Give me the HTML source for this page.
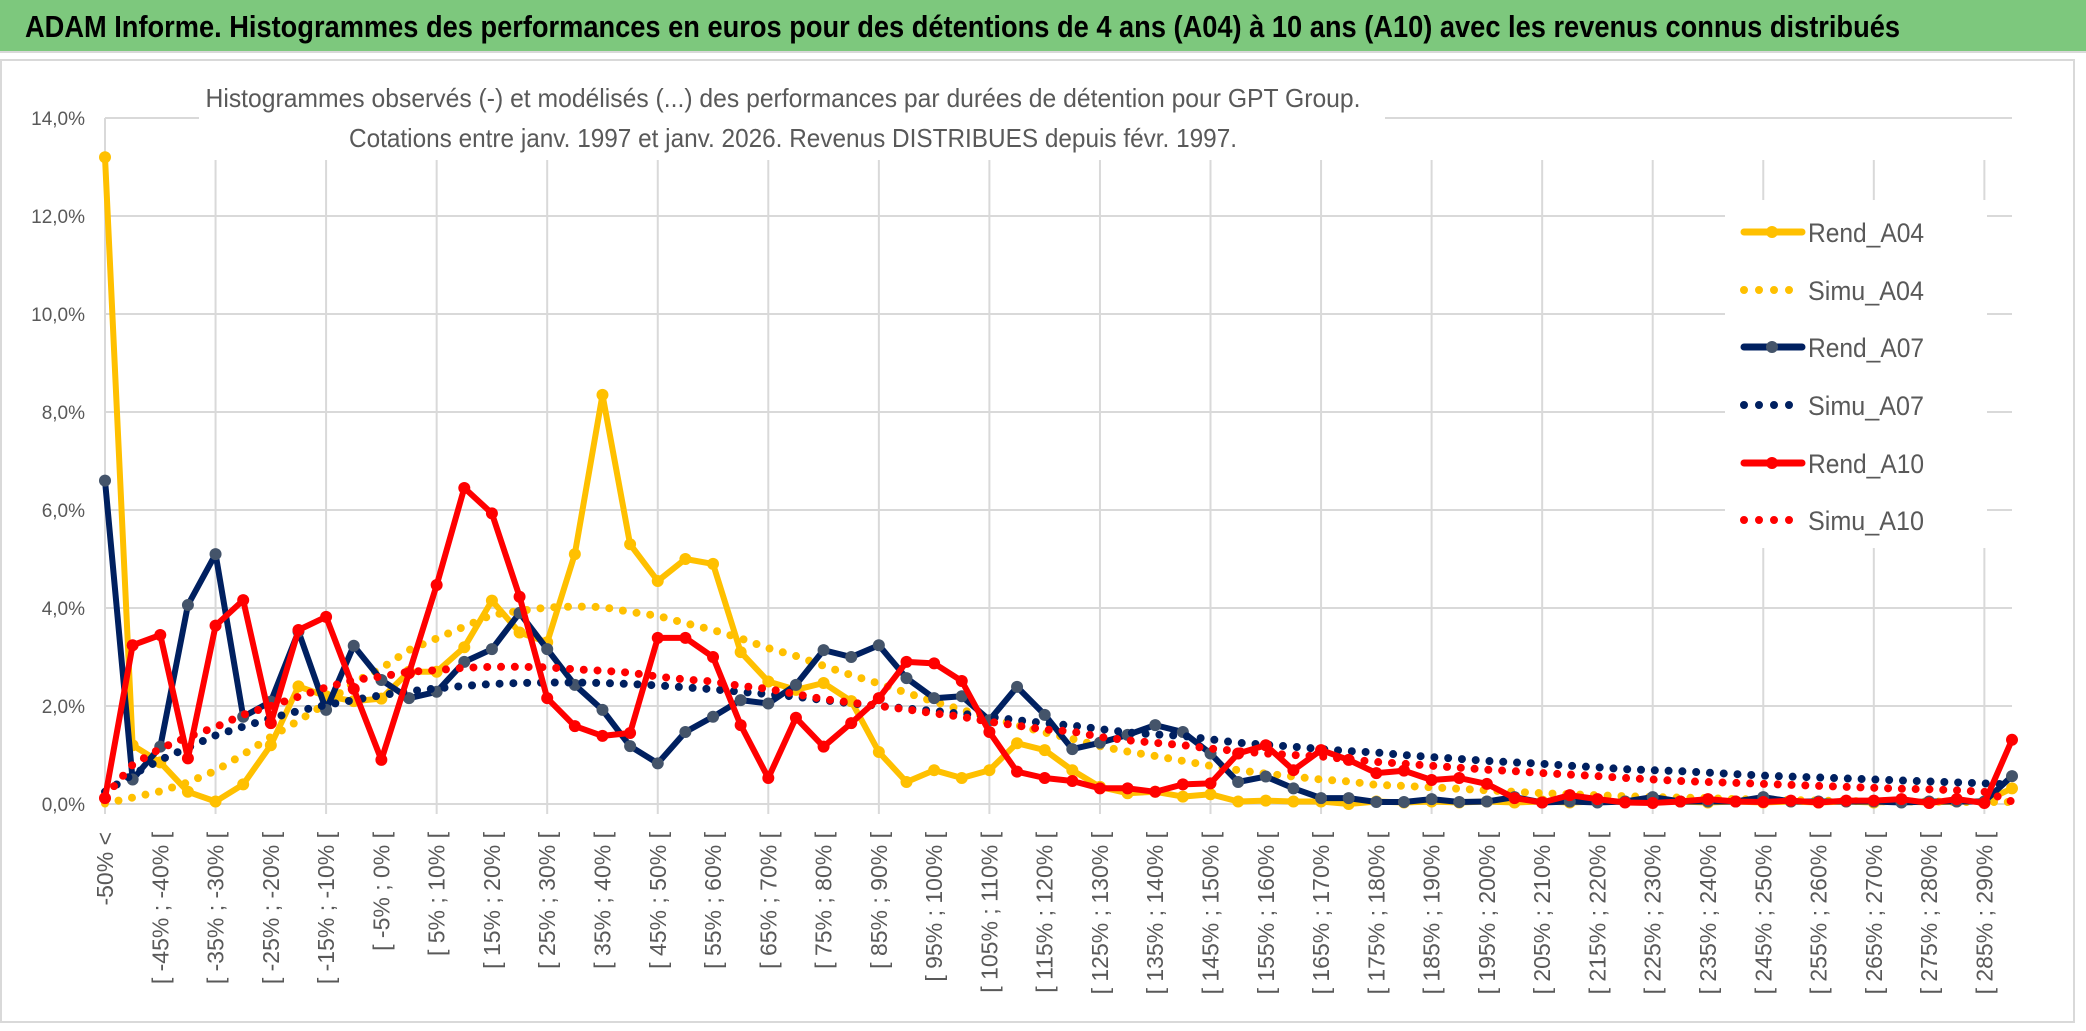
<!DOCTYPE html>
<html><head><meta charset="utf-8">
<style>
html,body{margin:0;padding:0;background:#fff;}
svg{display:block;}
text{font-family:"Liberation Sans",sans-serif;}
</style></head>
<body>
<svg id="chart" width="2086" height="1031" viewBox="0 0 2086 1031" xmlns="http://www.w3.org/2000/svg">
<rect x="0" y="0" width="2086" height="1031" fill="#fff"/>
<rect x="0" y="0" width="2086" height="51" fill="#7dc87d"/>
<line x1="0" y1="52" x2="2086" y2="52" stroke="#d9d9d9" stroke-width="2"/>
<text x="25" y="37" font-size="31" font-weight="bold" fill="#000" textLength="1875" lengthAdjust="spacingAndGlyphs">ADAM Informe. Histogrammes des performances en euros pour des détentions de 4 ans (A04) à 10 ans (A10) avec les revenus connus distribués</text>
<rect x="1" y="60" width="2073" height="962" fill="none" stroke="#d9d9d9" stroke-width="2"/>
<g id="grid"></g>
<rect x="199" y="62" width="1186" height="98" fill="#fff"/>
<text x="783" y="107" font-size="26" fill="#595959" text-anchor="middle" textLength="1155" lengthAdjust="spacingAndGlyphs">Histogrammes observés (-) et modélisés (...) des performances par durées de détention pour GPT Group.</text>
<text x="793" y="147" font-size="26" fill="#595959" text-anchor="middle" textLength="888" lengthAdjust="spacingAndGlyphs">Cotations entre janv. 1997 et janv. 2026. Revenus DISTRIBUES depuis févr. 1997.</text>
<g id="yaxis"></g>
<g id="xaxis"></g>
<g id="series"></g>
<g id="legend"></g>
</svg>
<script>
const categories = ["-50% <"];
for (let v = -50; v < 295; v += 5) categories.push("[ " + v + "% ; " + (v + 5) + "% [");
const yTicks = [0, 2, 4, 6, 8, 10, 12, 14];
const yTickLabels = ["0,0%", "2,0%", "4,0%", "6,0%", "8,0%", "10,0%", "12,0%", "14,0%"];
const seriesNames = ["Rend_A04", "Simu_A04", "Rend_A07", "Simu_A07", "Rend_A10", "Simu_A10"];
const rendA04 = [13.2,1.2,0.85,0.25,0.05,0.4,1.2,2.4,2.2,2.1,2.15,2.7,2.7,3.2,4.15,3.5,3.3,5.1,8.35,5.3,4.55,5.0,4.9,3.1,2.5,2.33,2.47,2.1,1.06,0.45,0.69,0.53,0.69,1.24,1.1,0.69,0.35,0.22,0.25,0.15,0.2,0.05,0.07,0.05,0.05,0.0,0.05,0.03,0.05,0.03,0.05,0.03,0.05,0.03,0.05,0.05,0.03,0.05,0.03,0.05,0.03,0.05,0.03,0.05,0.03,0.05,0.03,0.05,0.05,0.32];
const simuA04 = [0.01,0.13,0.26,0.44,0.68,1.01,1.37,1.7,2.05,2.48,2.77,3.14,3.38,3.62,3.86,3.94,4.01,4.03,4.02,3.92,3.84,3.69,3.55,3.38,3.18,3.02,2.82,2.63,2.46,2.27,2.09,1.92,1.77,1.61,1.46,1.33,1.18,1.07,0.98,0.88,0.78,0.69,0.62,0.56,0.5,0.46,0.39,0.37,0.34,0.31,0.28,0.25,0.22,0.2,0.18,0.16,0.14,0.13,0.12,0.1,0.09,0.08,0.07,0.06,0.06,0.05,0.05,0.04,0.04,0.04];
const rendA07 = [6.6,0.5,1.17,4.06,5.1,1.78,2.09,3.52,1.92,3.23,2.53,2.16,2.29,2.9,3.16,3.9,3.16,2.43,1.92,1.18,0.83,1.47,1.78,2.12,2.05,2.43,3.14,3.0,3.24,2.57,2.16,2.2,1.71,2.39,1.82,1.12,1.25,1.41,1.61,1.47,1.03,0.45,0.56,0.32,0.12,0.12,0.04,0.04,0.1,0.04,0.05,0.14,0.03,0.05,0.03,0.05,0.14,0.05,0.05,0.05,0.14,0.05,0.05,0.05,0.05,0.03,0.05,0.05,0.05,0.57];
const simuA07 = [0.25,0.6,0.9,1.15,1.4,1.58,1.75,1.9,2.02,2.12,2.22,2.3,2.36,2.41,2.45,2.47,2.48,2.48,2.47,2.45,2.42,2.38,2.34,2.29,2.24,2.19,2.12,2.05,2.0,1.95,1.9,1.84,1.78,1.71,1.65,1.6,1.53,1.46,1.42,1.39,1.32,1.25,1.21,1.17,1.12,1.08,1.05,1.0,0.96,0.92,0.88,0.85,0.82,0.78,0.75,0.71,0.69,0.67,0.64,0.61,0.58,0.56,0.54,0.52,0.5,0.48,0.46,0.44,0.42,0.4];
const rendA10 = [0.12,3.24,3.45,0.93,3.64,4.16,1.65,3.55,3.82,2.35,0.9,2.67,4.47,6.45,5.93,4.23,2.16,1.59,1.39,1.45,3.39,3.39,3.0,1.61,0.53,1.76,1.17,1.65,2.16,2.9,2.87,2.51,1.47,0.66,0.53,0.47,0.32,0.32,0.25,0.4,0.42,1.03,1.2,0.69,1.1,0.9,0.63,0.68,0.49,0.53,0.41,0.12,0.03,0.18,0.1,0.03,0.02,0.05,0.1,0.05,0.04,0.07,0.03,0.07,0.07,0.1,0.02,0.1,0.02,1.31];
const simuA10 = [0.15,0.8,1.13,1.37,1.57,1.82,2.0,2.19,2.38,2.53,2.6,2.7,2.73,2.78,2.8,2.8,2.79,2.75,2.72,2.68,2.6,2.54,2.5,2.41,2.35,2.24,2.14,2.07,2.0,1.93,1.85,1.78,1.68,1.6,1.52,1.48,1.37,1.3,1.25,1.2,1.13,1.08,1.03,1.0,0.97,0.91,0.86,0.82,0.78,0.74,0.7,0.67,0.63,0.6,0.57,0.53,0.5,0.47,0.45,0.43,0.41,0.39,0.37,0.35,0.33,0.31,0.3,0.28,0.25,0.05];

const NS = "http://www.w3.org/2000/svg";
const X0 = 105, X1 = 2012, Y0 = 804, Y1 = 118, YMAX = 14;
function xPos(i){ return X0 + i * (X1 - X0) / (categories.length - 1); }
function yPos(v){ return Y0 - v / YMAX * (Y0 - Y1); }
function mk(tag, attrs, parent){ const e = document.createElementNS(NS, tag); for (const k in attrs) e.setAttribute(k, attrs[k]); parent.appendChild(e); return e; }

const grid = document.getElementById("grid");
yTicks.forEach((t, k) => {
  const l = mk("line", {x1: X0, x2: X1, y1: yPos(t), y2: yPos(t), stroke: "#d9d9d9", "stroke-width": 2}, grid);
  
  
});
for (let i = 4; i < categories.length; i += 4) {
  const l = mk("line", {x1: xPos(i), x2: xPos(i), y1: 160, y2: 814, stroke: "#d9d9d9", "stroke-width": 2}, grid);
  
  
}
mk("line", {x1: X0, x2: X0, y1: Y1, y2: 814, stroke: "#d9d9d9", "stroke-width": 2}, grid);

const yaxis = document.getElementById("yaxis");
yTicks.forEach((t, k) => {
  const tx = mk("text", {x: 85, y: yPos(t) + 7, "font-size": 19, fill: "#595959", "text-anchor": "end"}, yaxis);
  tx.textContent = yTickLabels[k];
  
  
});
const xaxis = document.getElementById("xaxis");
categories.forEach((c, i) => {
  if (i % 2 !== 0) return;
  const x = xPos(i) + 8, y = 832;
  const tx = mk("text", {x: x, y: y, "font-size": 23, fill: "#595959", "text-anchor": "end", transform: "rotate(-90 " + x + " " + y + ")"}, xaxis);
  tx.textContent = c;
  
  
});

const seriesData = [rendA04, simuA04, rendA07, simuA07, rendA10, simuA10];
const colors = ["#FFC000", "#FFC000", "#002060", "#002060", "#FF0000", "#FF0000"];
const markerColors = ["#FFC000", null, "#44546A", null, "#FF0000", null];
const sg = document.getElementById("series");
seriesData.forEach((data, s) => {
  const g = mk("g", {}, sg);
  
  
  const pts = data.map((v, i) => xPos(i).toFixed(1) + "," + yPos(v).toFixed(1)).join(" ");
  if (markerColors[s]) {
    const pl = mk("polyline", {points: pts, fill: "none", stroke: colors[s], "stroke-width": 6, "stroke-linejoin": "round"}, g);
    
    
    data.forEach((v, i) => {
      const c = mk("circle", {cx: xPos(i), cy: yPos(v), r: 6, fill: markerColors[s]}, g);
      
      
    });
  } else {
    const pl = mk("polyline", {points: pts, fill: "none", stroke: colors[s], "stroke-width": 8, "stroke-linecap": "round", "stroke-dasharray": "0 13.8"}, g);
    
    
  }
});

const lg = document.getElementById("legend");
mk("rect", {x: 1725, y: 200, width: 262, height: 348, fill: "#fff"}, lg);
const ly = [232, 290, 347, 405, 463, 520];
seriesNames.forEach((n, s) => {
  const e = mk("g", {}, lg);
  
  
  if (markerColors[s]) {
    mk("line", {x1: 1744, x2: 1802, y1: ly[s], y2: ly[s], stroke: colors[s], "stroke-width": 7, "stroke-linecap": "round"}, e);
    mk("circle", {cx: 1772, cy: ly[s], r: 6, fill: markerColors[s]}, e);
  } else {
    mk("line", {x1: 1744, x2: 1800, y1: ly[s], y2: ly[s], stroke: colors[s], "stroke-width": 8, "stroke-linecap": "round", "stroke-dasharray": "0 15"}, e);
  }
  const t = mk("text", {x: 1808, y: ly[s] + 10, "font-size": 27, fill: "#595959", textLength: 116, lengthAdjust: "spacingAndGlyphs"}, e);
  t.textContent = n;
});
</script>
</body></html>
